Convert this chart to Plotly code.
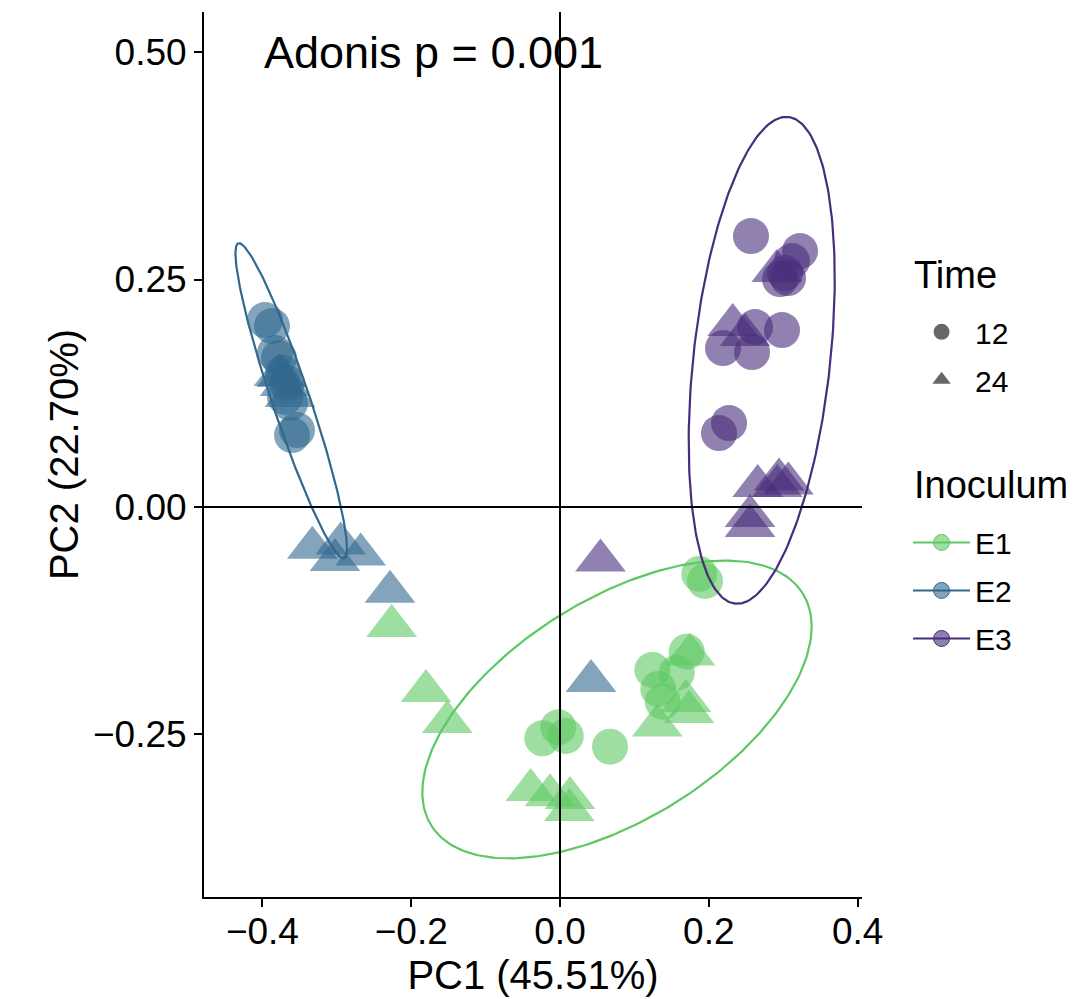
import numpy as np
import plotly.graph_objects as go

# ---------------- data ----------------
groups = ["E1", "E2", "E3"]
times = ["12", "24"]

e1_t12_x = [0.1872, 0.1949, 0.1241, 0.1569, 0.1703, 0.1321, 0.1380, -0.0238, -0.0023, 0.0077, 0.0672]
e1_t12_y = [-0.0736, -0.0813, -0.1791, -0.1821, -0.1590, -0.2000, -0.2140, -0.2542, -0.2421, -0.2516, -0.2634]
e1_t24_x = [-0.2262, -0.1801, -0.1515, -0.0394, -0.0134, 0.0134, 0.0125, 0.1308, 0.1747, 0.1694, 0.1734]
e1_t24_y = [-0.1308, -0.2022, -0.2363, -0.3110, -0.3169, -0.3198, -0.3330, -0.2400, -0.1620, -0.2132, -0.2253]

e2_t12_x = [-0.3965, -0.3871, -0.3831, -0.3777, -0.3723, -0.3669, -0.3696, -0.3629, -0.3602, -0.3535]
e2_t12_y = [0.2055, 0.1989, 0.1692, 0.1637, 0.1473, 0.1363, 0.1209, 0.1143, 0.0791, 0.0846]
e2_t24_x = [-0.3737, -0.3777, -0.3696, -0.3629, -0.3329, -0.2948, -0.3024, -0.2679, -0.2285, 0.0417]
e2_t24_y = [0.1440, 0.1451, 0.1341, 0.1220, -0.0448, -0.0400, -0.0582, -0.0521, -0.0932, -0.1912]

e3_t12_x = [0.2567, 0.3226, 0.3118, 0.3024, 0.3065, 0.2957, 0.2621, 0.2984, 0.2191, 0.2581, 0.2272, 0.2137]
e3_t12_y = [0.2978, 0.2813, 0.2703, 0.2571, 0.2516, 0.2505, 0.1978, 0.1945, 0.1747, 0.1703, 0.0923, 0.0813]
e3_t24_x = [0.2913, 0.2321, 0.2487, 0.2657, 0.2944, 0.3069, 0.2921, 0.2554, 0.2554, 0.0544]
e3_t24_y = [0.2593, 0.2000, 0.1890, 0.0231, 0.0303, 0.0259, 0.0231, -0.0099, -0.0209, -0.0587]

# 95% ellipse parameters per inoculum: centre, major half-axis vector, minor half-axis vector
ellipse_center = {"E1": (0.0766, -0.2225), "E2": (-0.3613, 0.1167), "E3": (0.2711, 0.1612)}
ellipse_major = {"E1": (0.2496, 0.1276), "E2": (0.0710, -0.1731), "E3": (-0.0358, -0.2674)}
ellipse_minor = {"E1": (0.0784, -0.1025), "E2": (0.0239, 0.0067), "E3": (0.0914, -0.0082)}

x_tick_vals = [-0.4, -0.2, 0.0, 0.2, 0.4]
x_tick_text = ["\u22120.4", "\u22120.2", "0.0", "0.2", "0.4"]
y_tick_vals = [-0.25, 0.0, 0.25, 0.50]
y_tick_text = ["\u22120.25", "0.00", "0.25", "0.50"]
ref_lines = [0.0]

x_label = "PC1 (45.51%)"
y_label = "PC2 (22.70%)"
adonis_text = "Adonis p = 0.001"
legend_titles = ["Time", "Inoculum"]

# ---------------- style ----------------
FONT = "Liberation Sans, Arial, Helvetica, sans-serif"
colors = {"E1": "#5DC863", "E2": "#31688E", "E3": "#472D7B"}
fills = {"E1": "rgba(93,200,99,0.6)", "E2": "rgba(49,104,142,0.6)", "E3": "rgba(71,45,123,0.6)"}
symbols = {"12": "circle", "24": "triangle-up"}
sizes = {"12": 36, "24": 44}

data = {
    ("E1", "12"): (e1_t12_x, e1_t12_y), ("E1", "24"): (e1_t24_x, e1_t24_y),
    ("E2", "12"): (e2_t12_x, e2_t12_y), ("E2", "24"): (e2_t24_x, e2_t24_y),
    ("E3", "12"): (e3_t12_x, e3_t12_y), ("E3", "24"): (e3_t24_x, e3_t24_y),
}

fig = go.Figure()

for g in groups:
    for t in times:
        xs, ys = data[(g, t)]
        fig.add_trace(go.Scatter(
            x=xs, y=ys, mode="markers", showlegend=False,
            marker=dict(symbol=symbols[t], size=sizes[t], color=fills[g], line=dict(width=0)),
        ))

tt = np.linspace(0, 2 * np.pi, 241)
for g in groups:
    cx, cy = ellipse_center[g]
    ax_, ay_ = ellipse_major[g]
    bx_, by_ = ellipse_minor[g]
    ex = cx + ax_ * np.cos(tt) + bx_ * np.sin(tt)
    ey = cy + ay_ * np.cos(tt) + by_ * np.sin(tt)
    fig.add_trace(go.Scatter(x=ex, y=ey, mode="lines", showlegend=False,
                             line=dict(color=colors[g], width=2.2), hoverinfo="skip"))

# legend entries
for t in times:
    fig.add_trace(go.Scatter(x=[None], y=[None], mode="markers", name=t, legend="legend",
                             legendgroup="t" + t,
                             marker=dict(symbol=symbols[t], size=16, color="rgba(0,0,0,0.6)",
                                         line=dict(width=0))))
for g in groups:
    fig.add_trace(go.Scatter(x=[None], y=[None], mode="lines+markers", name=g, legend="legend2",
                             legendgroup="g" + g,
                             marker=dict(symbol="circle", size=16, color=fills[g],
                                         line=dict(width=1, color=colors[g])),
                             line=dict(color=colors[g], width=2)))

for v in ref_lines:
    fig.add_shape(type="line", xref="x", yref="paper", x0=v, x1=v, y0=0, y1=1,
                  line=dict(color="black", width=2), layer="above")
    fig.add_shape(type="line", xref="paper", yref="y", x0=0, x1=1, y0=v, y1=v,
                  line=dict(color="black", width=2), layer="above")

fig.add_annotation(x=-0.17, y=0.5, xref="x", yref="y", text=adonis_text, showarrow=False,
                   font=dict(family=FONT, size=45, color="black"), xanchor="center", yanchor="middle")

# legend titles
for title, ypos in zip(legend_titles, [0.703, 0.4655]):
    fig.add_annotation(x=1.076, y=ypos, xref="paper", yref="paper", text=title, showarrow=False,
                       font=dict(family=FONT, size=38, color="black"), xanchor="left", yanchor="middle")

axis_common = dict(showgrid=False, zeroline=False, showline=True, linecolor="black", linewidth=2,
                   ticks="outside", ticklen=8, tickwidth=2, tickcolor="black",
                   tickfont=dict(family=FONT, size=37, color="black"), mirror=False)

fig.update_xaxes(range=[-0.4785, 0.4059], tickvals=x_tick_vals, ticktext=x_tick_text,
                 ticklabelstandoff=-7,
                 title=dict(text=x_label, font=dict(family=FONT, size=40, color="black"), standoff=10),
                 **axis_common)
fig.update_yaxes(range=[-0.4286, 0.5440], tickvals=y_tick_vals, ticktext=y_tick_text,
                 title=dict(text=y_label, font=dict(family=FONT, size=40, color="black"), standoff=2),
                 **axis_common)

fig.update_layout(
    width=1085, height=999,
    margin=dict(l=204, r=223, t=12, b=102, autoexpand=False),
    plot_bgcolor="white", paper_bgcolor="white",
    font=dict(family=FONT, color="black"),
    legend=dict(font=dict(family=FONT, size=30), x=1.07, y=0.668, xanchor="left", yanchor="top",
                bgcolor="rgba(0,0,0,0)", tracegroupgap=6, itemsizing="trace", itemwidth=57),
    legend2=dict(font=dict(family=FONT, size=30), x=1.07, y=0.43, xanchor="left", yanchor="top",
                 bgcolor="rgba(0,0,0,0)", tracegroupgap=6, itemsizing="trace", itemwidth=57),
)

fig.write_html("out.html")
